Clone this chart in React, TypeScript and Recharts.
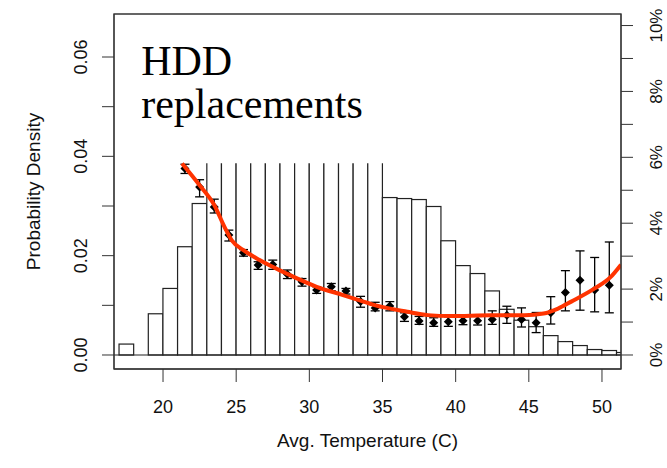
import React from "react";
import {
  ComposedChart,
  Bar,
  Line,
  Scatter,
  ErrorBar,
  XAxis,
  YAxis,
  ReferenceArea,
  ReferenceLine,
} from "recharts";

// histogram: 1-degree bins, value = probability density (left axis)
const binCenters = [
  17.5, 18.5, 19.5, 20.5, 21.5, 22.5, 23.5, 24.5, 25.5, 26.5, 27.5, 28.5,
  29.5, 30.5, 31.5, 32.5, 33.5, 34.5, 35.5, 36.5, 37.5, 38.5, 39.5, 40.5,
  41.5, 42.5, 43.5, 44.5, 45.5, 46.5, 47.5, 48.5, 49.5, 50.5, 51.5,
];
// bins 23..34 are hidden behind the text box, their heights are guesses
const density = [
  0.0022, 0, 0.0083, 0.0134, 0.0218, 0.0305, 0.045, 0.052, 0.058, 0.062,
  0.063, 0.062, 0.06, 0.058, 0.056, 0.055, 0.054, 0.052, 0.0317, 0.0315,
  0.0313, 0.0299, 0.023, 0.018, 0.0164, 0.0129, 0.0092, 0.007, 0.0057,
  0.0039, 0.0027, 0.0019, 0.0011, 0.0009, 0.0005,
];

// replacement rate per temperature bin (right axis, %)
const rateTemps = [
  21.5, 22.5, 23.5, 24.5, 25.5, 26.5, 27.5, 28.5, 29.5, 30.5, 31.5, 32.5,
  33.5, 34.5, 35.5, 36.5, 37.5, 38.5, 39.5, 40.5, 41.5, 42.5, 43.5, 44.5,
  45.5, 46.5, 47.5, 48.5, 49.5, 50.5,
];
const rates = [
  5.66, 5.1, 4.49, 3.64, 3.1, 2.73, 2.75, 2.45, 2.22, 1.97, 2.07, 1.94, 1.62,
  1.43, 1.49, 1.16, 1.03, 0.98, 1.01, 1.04, 1.04, 1.08, 1.21, 1.08, 0.98,
  1.28, 1.9, 2.27, 1.97, 2.12,
];
const rateLow = [
  5.51, 4.8, 4.31, 3.46, 3.0, 2.6, 2.6, 2.32, 2.09, 1.87, 1.95, 1.85, 1.45,
  1.34, 1.34, 1.02, 0.93, 0.87, 0.87, 0.92, 0.91, 0.93, 0.96, 0.85, 0.68,
  0.94, 1.34, 1.36, 1.31, 1.28,
];
const rateHigh = [
  5.79, 5.32, 4.73, 3.79, 3.2, 2.83, 2.88, 2.58, 2.32, 2.07, 2.17, 2.02,
  1.78, 1.6, 1.62, 1.28, 1.17, 1.13, 1.16, 1.17, 1.17, 1.34, 1.48, 1.43,
  1.29, 1.77, 2.56, 3.16, 2.96, 3.43,
];

// smoothed fit (red curve)
const fitTemps = [
  21.3, 22.5, 23.5, 24.2, 24.7, 25.5, 26.6, 28.4, 30.5, 32.3, 33.5, 34.4,
  36.7, 38.1, 39.7, 42.4, 44.7, 46.0, 47.0, 47.9, 49.5, 50.6, 51.3,
];
const fitRates = [
  5.81, 5.15, 4.55, 3.89, 3.48, 3.18, 2.88, 2.48, 2.07, 1.82, 1.65, 1.52,
  1.31, 1.21, 1.18, 1.21, 1.21, 1.26, 1.41, 1.62, 2.02, 2.37, 2.74,
];

const tempTicks = [20, 25, 30, 35, 40, 45, 50];
const densityTicks = [0, 0.01, 0.02, 0.03, 0.04, 0.05, 0.06];
const rateTicks = [0, 1, 2, 3, 4, 5, 6, 7, 8, 9, 10];

const histData = binCenters.map((x, i) => ({ x, density: density[i] }));
const rateData = rateTemps.map((x, i) => ({
  x,
  rate: rates[i],
  err: [rates[i] - rateLow[i], rateHigh[i] - rates[i]],
}));
const fitData = fitTemps.map((x, i) => ({ x, fit: fitRates[i] }));

const X_DOMAIN: [number, number] = [16.65, 51.3];
const LEFT_DOMAIN: [number, number] = [-0.00282, 0.06866];
const PLOT_W = 667 - 114 - 46;
const BIN_PX = PLOT_W / (X_DOMAIN[1] - X_DOMAIN[0]);

const SANS = "'Liberation Sans', Arial, Helvetica, sans-serif";
const SERIF = "'Liberation Serif', 'Times New Roman', serif";
const INK = "#111";

function BottomTick({ x, y, payload }: any) {
  return (
    <text x={x} y={y + 25} textAnchor="middle" dominantBaseline="central"
      fontSize={18} fontFamily={SANS} fill={INK}>
      {payload.value}
    </text>
  );
}

function LeftTick({ x, y, payload }: any) {
  const v = payload.value;
  if (Math.round(v * 100) % 2 !== 0) return <g />;
  const cx = x - 21;
  return (
    <text x={cx} y={y} textAnchor="middle" dominantBaseline="central"
      transform={`rotate(-90, ${cx}, ${y})`}
      fontSize={18} fontFamily={SANS} fill={INK}>
      {v.toFixed(2)}
    </text>
  );
}

function RightTick({ x, y, payload }: any) {
  const v = payload.value;
  if (v % 2 !== 0) return <g />;
  const cx = x + 24;
  return (
    <text x={cx} y={y} textAnchor="middle" dominantBaseline="central"
      transform={`rotate(-90, ${cx}, ${y})`}
      fontSize={17} fontFamily={SANS} fill={INK}>
      {v}%
    </text>
  );
}

function XTitle({ viewBox }: any) {
  return (
    <text x={viewBox.x + viewBox.width / 2} y={viewBox.y + 78}
      textAnchor="middle" fontSize={19} fontFamily={SANS} fill={INK}>
      Avg. Temperature (C)
    </text>
  );
}

function YTitle({ viewBox }: any) {
  const cx = viewBox.x + 33;
  const cy = viewBox.y + viewBox.height / 2;
  return (
    <text x={cx} y={cy} textAnchor="middle" dominantBaseline="central"
      transform={`rotate(-90, ${cx}, ${cy})`}
      fontSize={19} fontFamily={SANS} fill={INK}>
      Probability Density
    </text>
  );
}

function Note({ viewBox }: any) {
  const x = viewBox.x + 25;
  return (
    <text x={x} y={viewBox.y + 58} fontSize={42} fontFamily={SERIF} fill="#000">
      <tspan x={x}>HDD</tspan>
      <tspan x={x} dy={43}>replacements</tspan>
    </text>
  );
}

// full-width histogram bin, centred on the bar slot recharts gives us
function HistBar({ x, y, width, height }: any) {
  if (!height || height <= 0) return <g />;
  const cx = x + width / 2;
  return (
    <rect x={cx - BIN_PX / 2} y={y} width={BIN_PX} height={height}
      fill="#fff" stroke="#222" strokeWidth={1.2} />
  );
}

function Diamond({ cx, cy }: any) {
  const r = 4.5;
  return (
    <path d={`M${cx},${cy - r}L${cx + r},${cy}L${cx},${cy + r}L${cx - r},${cy}Z`}
      fill="#000" />
  );
}

export default function App() {
  return (
    <div style={{ position: "absolute", left: 0, top: 0, background: "#fff" }}>
      <ComposedChart
        width={667}
        height={468}
        data={histData}
        margin={{ top: 14, right: 0, bottom: 0, left: 0 }}
      >
        <XAxis
          dataKey="x"
          type="number"
          domain={X_DOMAIN}
          allowDataOverflow
          ticks={tempTicks}
          tickSize={13}
          tickMargin={0}
          height={99}
          stroke="#333"
          tick={<BottomTick />}
          label={<XTitle />}
        />
        <YAxis
          yAxisId="left"
          type="number"
          domain={LEFT_DOMAIN}
          allowDataOverflow
          ticks={densityTicks}
          tickSize={12}
          tickMargin={0}
          width={114}
          stroke="#333"
          tick={<LeftTick />}
          label={<YTitle />}
        />
        <YAxis
          yAxisId="right"
          orientation="right"
          type="number"
          domain={[-0.425, 10.35]}
          allowDataOverflow
          ticks={rateTicks}
          tickSize={12}
          tickMargin={0}
          width={46}
          stroke="#333"
          tick={<RightTick />}
        />
        <Bar
          yAxisId="left"
          dataKey="density"
          shape={<HistBar />}
          isAnimationActive={false}
        />
        <ReferenceArea
          yAxisId="left"
          x1={16.8}
          x2={35.3}
          y1={0.0386}
          y2={0.068}
          fill="#fff"
          fillOpacity={1}
          stroke="none"
          zIndex={350}
          label={<Note />}
        />
        <ReferenceLine yAxisId="left" y={0} stroke="#222" strokeWidth={1.2} />
        <Scatter
          yAxisId="right"
          data={rateData}
          dataKey="rate"
          shape={<Diamond />}
          isAnimationActive={false}
        >
          <ErrorBar dataKey="err" direction="y" width={4.5} stroke="#000"
            strokeWidth={1.3} />
        </Scatter>
        <Line
          yAxisId="right"
          data={fitData}
          dataKey="fit"
          type="monotone"
          stroke="#ff3300"
          strokeWidth={4}
          dot={false}
          zIndex={700}
          isAnimationActive={false}
        />
        {/* plot frame */}
        <ReferenceArea
          yAxisId="left"
          x1={X_DOMAIN[0]}
          x2={X_DOMAIN[1]}
          y1={LEFT_DOMAIN[0]}
          y2={LEFT_DOMAIN[1]}
          ifOverflow="visible"
          fill="none"
          stroke="#333"
          strokeWidth={1.3}
          zIndex={800}
        />
      </ComposedChart>
    </div>
  );
}
